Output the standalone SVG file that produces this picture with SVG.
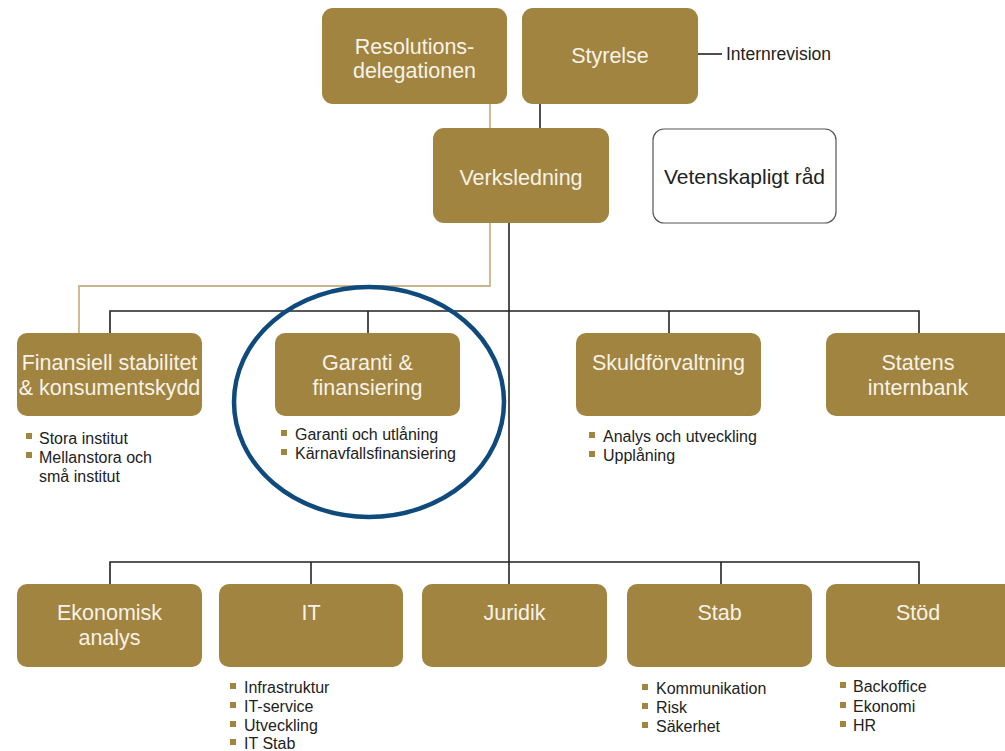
<svg xmlns="http://www.w3.org/2000/svg" width="1005" height="751" viewBox="0 0 1005 751">
<style>
.box{fill:#a0843f}
.wbox{fill:#ffffff;stroke:#555;stroke-width:1.2}
.t{font-family:"Liberation Sans",Arial,sans-serif;font-size:21.5px;fill:#f7f2e8;text-anchor:middle}
.td{font-family:"Liberation Sans",Arial,sans-serif;font-size:21px;fill:#222;text-anchor:middle}
.b{font-family:"Liberation Sans",Arial,sans-serif;font-size:16px;fill:#222}
.bl{fill:#a0843f}
.k{stroke:#222;stroke-width:1.6;fill:none}
.tan{stroke:#c9b48c;stroke-width:1.8;fill:none}
</style>
<rect width="1005" height="751" fill="#ffffff"/>
<g id="connectors">
<path class="tan" d="M490,104 V128"/>
<path class="k" d="M540,104 V128"/>
<path class="k" d="M698,54 H722"/>
<path class="tan" d="M490,223 V286 H79 V333"/>
<path class="k" d="M509,223 V584"/>
<path class="k" d="M110,333 V311 H919 V333"/>
<path class="k" d="M368,311 V333"/>
<path class="k" d="M669,311 V333"/>
<path class="k" d="M110,584 V562 H919 V584"/>
<path class="k" d="M311,562 V584"/>
<path class="k" d="M721,562 V584"/>
</g>
<g id="resolutionsdelegationen">
<rect class="box" x="322" y="8" width="185" height="96" rx="11"/>
<text class="t" x="414.5" y="54">Resolutions-</text>
<text class="t" x="414.5" y="78">delegationen</text>
</g>
<g id="styrelse">
<rect class="box" x="522" y="8" width="176" height="96" rx="11"/>
<text class="t" x="610" y="63">Styrelse</text>
</g>
<g id="internrevision">
<text class="b" x="726" y="60" style="font-size:17.5px">Internrevision</text>
</g>
<g id="verksledning">
<rect class="box" x="433" y="128" width="176" height="95" rx="11"/>
<text class="t" x="521" y="185">Verksledning</text>
</g>
<g id="vetenskapligt">
<rect class="wbox" x="653" y="129" width="183" height="94" rx="11"/>
<text class="td" x="744.5" y="184">Vetenskapligt råd</text>
</g>
<g id="finansiell">
<rect class="box" x="17" y="333" width="185" height="83" rx="10"/>
<text class="t" x="109.5" y="370">Finansiell stabilitet</text>
<text class="t" x="109.5" y="395">&amp; konsumentskydd</text>
<rect class="bl" x="26" y="433" width="6" height="6"/>
<text class="b" x="39" y="444">Stora institut</text>
<rect class="bl" x="26" y="452" width="6" height="6"/>
<text class="b" x="39" y="463">Mellanstora och</text>
<text class="b" x="39" y="482">små institut</text>
</g>
<g id="garanti">
<rect class="box" x="275" y="333" width="185" height="83" rx="10"/>
<text class="t" x="367.5" y="370">Garanti &amp;</text>
<text class="t" x="367.5" y="395">finansiering</text>
<rect class="bl" x="281" y="430" width="6" height="6"/>
<text class="b" x="295" y="440">Garanti och utlåning</text>
<rect class="bl" x="281" y="449" width="6" height="6"/>
<text class="b" x="295" y="459">Kärnavfallsfinansiering</text>
</g>
<g id="skuld">
<rect class="box" x="576" y="333" width="185" height="83" rx="10"/>
<text class="t" x="668.5" y="370">Skuldförvaltning</text>
<rect class="bl" x="589" y="432" width="6" height="6"/>
<text class="b" x="603" y="442">Analys och utveckling</text>
<rect class="bl" x="589" y="451" width="6" height="6"/>
<text class="b" x="603" y="461">Upplåning</text>
</g>
<g id="statens">
<rect class="box" x="826" y="333" width="190" height="83" rx="10"/>
<text class="t" x="918" y="370">Statens</text>
<text class="t" x="918" y="395">internbank</text>
</g>
<g id="ekonomisk">
<rect class="box" x="17" y="584" width="185" height="83" rx="10"/>
<text class="t" x="109.5" y="620">Ekonomisk</text>
<text class="t" x="109.5" y="645">analys</text>
</g>
<g id="it">
<rect class="box" x="219" y="584" width="184" height="83" rx="10"/>
<text class="t" x="311" y="620">IT</text>
<rect class="bl" x="230" y="683" width="6" height="6"/>
<text class="b" x="244" y="693">Infrastruktur</text>
<rect class="bl" x="230" y="702" width="6" height="6"/>
<text class="b" x="244" y="712">IT-service</text>
<rect class="bl" x="230" y="721" width="6" height="6"/>
<text class="b" x="244" y="731">Utveckling</text>
<rect class="bl" x="230" y="739" width="6" height="6"/>
<text class="b" x="244" y="749">IT Stab</text>
</g>
<g id="juridik">
<rect class="box" x="422" y="584" width="185" height="83" rx="10"/>
<text class="t" x="514.5" y="620">Juridik</text>
</g>
<g id="stab">
<rect class="box" x="627" y="584" width="185" height="83" rx="10"/>
<text class="t" x="719.5" y="620">Stab</text>
<rect class="bl" x="642" y="684" width="6" height="6"/>
<text class="b" x="656" y="694">Kommunikation</text>
<rect class="bl" x="642" y="703" width="6" height="6"/>
<text class="b" x="656" y="713">Risk</text>
<rect class="bl" x="642" y="722" width="6" height="6"/>
<text class="b" x="656" y="732">Säkerhet</text>
</g>
<g id="stod">
<rect class="box" x="826" y="584" width="190" height="83" rx="10"/>
<text class="t" x="918" y="620">Stöd</text>
<rect class="bl" x="840" y="682" width="6" height="6"/>
<text class="b" x="853" y="692">Backoffice</text>
<rect class="bl" x="840" y="702" width="6" height="6"/>
<text class="b" x="853" y="712">Ekonomi</text>
<rect class="bl" x="840" y="721" width="6" height="6"/>
<text class="b" x="853" y="731">HR</text>
</g>
<g id="highlight">
<ellipse cx="369" cy="402" rx="135" ry="115" fill="none" stroke="#0f4a7d" stroke-width="4.5"/>
</g>
</svg>
